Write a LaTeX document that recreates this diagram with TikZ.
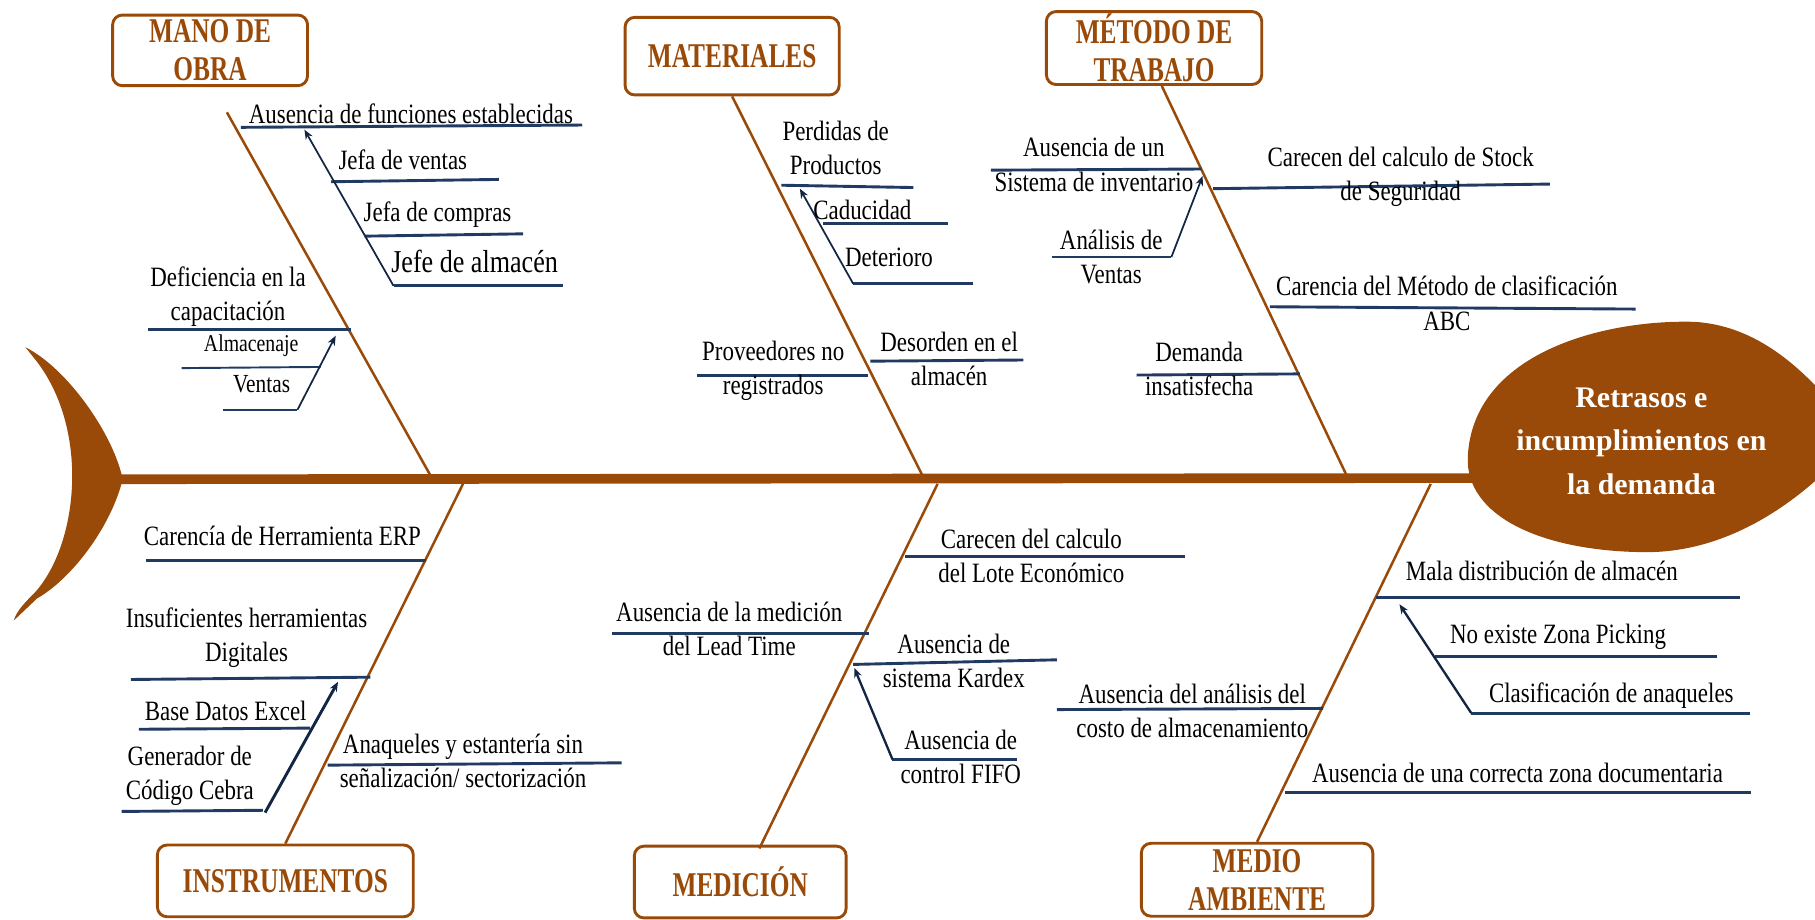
\documentclass[tikz,border=0pt]{standalone}
\usepackage{fontspec}
\setmainfont{Liberation Serif}[FakeStretch=0.82]
\newfontfamily\catfont{Liberation Serif}[FakeStretch=0.73]
\newfontfamily\headfont{Liberation Serif}
\usepackage{xcolor}
\usepackage{tikz}
\usetikzlibrary{arrows.meta,positioning,calc}
\definecolor{fishbrown}{RGB}{153,74,8}
\definecolor{ribblue}{RGB}{33,58,98}
\definecolor{arrblue}{RGB}{18,38,68}
\tikzset{
  cat/.style    = {rectangle, draw=fishbrown, line width=1.5pt, fill=white,
                   rounded corners=5pt, text=fishbrown, align=center, inner sep=0.5pt,
                   font=\catfont\fontsize{18}{19.8}\selectfont\bfseries},
  cause/.style  = {inner sep=0pt, align=center,
                   font=\fontsize{14.5}{17.7}\selectfont},
  bone/.style   = {draw=fishbrown, line width=1.3pt},
  spine/.style  = {draw=fishbrown, line width=5pt},
  rib/.style    = {draw=ribblue, line width=1.5pt},
  subarr/.style = {-{Stealth[length=5pt,width=4pt]}, draw=arrblue, line width=0.9pt},
}

\begin{document}
\begin{tikzpicture}[x=0.6pt, y=-0.6pt]
\useasboundingbox (0,0) rectangle (1568,794);
\clip (0,0) rectangle (1568,794);

%% ── Head and tail ─────────────────────────────────────────────────────────
\fill[fishbrown] (1268,395) .. controls (1272,305) and (1385,276) .. (1463,278)
  .. controls (1520,281) and (1565,322) .. (1605,378)
  .. controls (1565,425) and (1500,478) .. (1420,477)
  .. controls (1330,476) and (1266,445) .. (1268,395) -- cycle;
\node[font=\headfont\fontsize{15.5}{22.5}\selectfont\bfseries, text=white, align=center]
  (effect) at (1418,381) {Retrasos e\\incumplimientos en\\la demanda};

\fill[fishbrown] (22,300) .. controls (58,318) and (98,375) .. (106,414)
  .. controls (96,455) and (62,500) .. (32,517) -- (12,536)
  .. controls (14,528) and (22,520) .. (30,512)
  .. controls (68,470) and (78,370) .. (30,310) -- cycle;

%% ── Spine ─────────────────────────────────────────────────────────────────
\coordinate (tailTip) at (104,414);
\coordinate (spineEnd) at (1272,413);
\draw[spine] (tailTip) -- (spineEnd);

%% ── Categories ────────────────────────────────────────────────────────────
\node[cat, minimum width=101pt, minimum height=36.6pt] (catObra) at (181.5,43.5) {MANO DE\\OBRA};
\node[cat, minimum width=111pt, minimum height=40.2pt] (catMat)  at (632.5,48.5) {MATERIALES};
\node[cat, minimum width=111.6pt, minimum height=37.8pt] (catMet) at (997,41.5) {MÉTODO DE\\TRABAJO};
\node[cat, minimum width=132.6pt, minimum height=37.2pt] (catIns) at (246.5,761) {INSTRUMENTOS};
\node[cat, minimum width=109.8pt, minimum height=37.2pt] (catMed) at (639.5,762) {MEDICIÓN};
\node[cat, minimum width=120pt, minimum height=37.8pt] (catAmb)  at (1086,760) {MEDIO\\AMBIENTE};

%% ── Bones ─────────────────────────────────────────────────────────────────
\coordinate (obraTop) at (196,97);   \coordinate (obraEnd) at (372,411);
\coordinate (matEnd)  at (797,411);
\coordinate (metEnd)  at (1163,410);
\coordinate (insStart) at (400,418);
\coordinate (medStart) at (810,418); \coordinate (medBot) at (656,733);
\coordinate (ambStart) at (1236,418);

\draw[bone] (obraTop) -- (obraEnd);
\draw[bone] (catMat.south) -- (matEnd);
\draw[bone] ([xshift=4pt]catMet.south) -- (metEnd);
\draw[bone] (insStart) -- (catIns.north);
\draw[bone] (medStart) -- (medBot);
\draw[bone] (ambStart) -- (catAmb.north);

%% ── Mano de obra ──────────────────────────────────────────────────────────
\coordinate (obraA1) at (208,110); \coordinate (obraA2) at (503,108);
\coordinate (obraB1) at (286,157); \coordinate (obraB2) at (431,155);
\coordinate (obraC1) at (315,204); \coordinate (obraC2) at (452,202);
\coordinate (obraD1) at (340,247); \coordinate (obraD2) at (486,247);
\coordinate (obraE1) at (128,285); \coordinate (obraE2) at (303,285);
\coordinate (obraF1) at (157,318); \coordinate (obraF2) at (277,317);
\coordinate (obraG1) at (193,354); \coordinate (obraG2) at (257,354);
\coordinate (obraTipA) at (263,112); \coordinate (obraTipE) at (290,290);

\draw[rib] (obraA1) -- (obraA2);
\draw[rib] (obraB1) -- (obraB2);
\draw[rib] (obraC1) -- (obraC2);
\draw[rib] (obraD1) -- (obraD2);
\draw[rib] (obraE1) -- (obraE2);
\draw[rib, line width=1pt] (obraF1) -- (obraF2);
\draw[rib, line width=1pt] (obraG1) -- (obraG2);
\draw[subarr] (obraD1) -- (obraTipA);
\draw[subarr] (obraG2) -- (obraTipE);

\node[cause] (obraA) at (355,98)  {Ausencia de funciones establecidas};
\node[cause] (obraB) at (348,138) {Jefa de ventas};
\node[cause] (obraC) at (378,185) {Jefa de compras};
\node[cause, font=\fontsize{16.5}{19}\selectfont] (obraD) at (410,226) {Jefe de almacén};
\node[cause] (obraE) at (197,256) {Deficiencia en la\\capacitación};
\node[cause, font=\fontsize{12.5}{15}\selectfont] (obraF) at (217,299) {Almacenaje};
\node[cause, font=\fontsize{13.5}{16}\selectfont] (obraG) at (226,332) {Ventas};

%% ── Materiales ────────────────────────────────────────────────────────────
\coordinate (matA1) at (675,160); \coordinate (matA2) at (789,162);
\coordinate (matB1) at (711,193); \coordinate (matB2) at (819,193);
\coordinate (matC1) at (737,245); \coordinate (matC2) at (841,245);
\coordinate (matD1) at (602,324); \coordinate (matD2) at (750,324);
\coordinate (matE1) at (752,312); \coordinate (matE2) at (884,311);
\coordinate (matTipA) at (691,163);

\draw[rib] (matA1) -- (matA2);
\draw[rib] (matB1) -- (matB2);
\draw[rib] (matC1) -- (matC2);
\draw[rib] (matD1) -- (matD2);
\draw[rib] (matE1) -- (matE2);
\draw[subarr] (matC1) -- (matTipA);

\node[cause] (matA) at (722,128) {Perdidas de\\Productos};
\node[cause] (matB) at (745,181) {Caducidad};
\node[cause] (matC) at (768,222) {Deterioro};
\node[cause] (matD) at (668,320) {Proveedores no\\registrados};
\node[cause] (matE) at (820,310) {Desorden en el\\almacén};

%% ── Método de trabajo ─────────────────────────────────────────────────────
\coordinate (metA1) at (856,147);  \coordinate (metA2) at (1038,146);
\coordinate (metB1) at (909,222);  \coordinate (metB2) at (1012,222);
\coordinate (metC1) at (1048,163); \coordinate (metC2) at (1339,159);
\coordinate (metD1) at (1097,265); \coordinate (metD2) at (1413,267);
\coordinate (metE1) at (982,324);  \coordinate (metE2) at (1123,323);
\coordinate (metTipA) at (1039,152);

\draw[rib] (metA1) -- (metA2);
\draw[rib] (metB1) -- (metB2);
\draw[rib] (metC1) -- (metC2);
\draw[rib] (metD1) -- (metD2);
\draw[rib] (metE1) -- (metE2);
\draw[subarr] (metB2) -- (metTipA);

\node[cause] (metA) at (945,142)  {Ausencia de un\\Sistema de inventario};
\node[cause] (metB) at (960,222)  {Análisis de\\Ventas};
\node[cause] (metC) at (1210,153) {Carecen del calculo de Stock\\de Seguridad};
\node[cause] (metD) at (1250,262) {Carencia del Método de clasificación\\ABC};
\node[cause] (metE) at (1036,319) {Demanda\\insatisfecha};

%% ── Instrumentos ──────────────────────────────────────────────────────────
\coordinate (insA1) at (126,484); \coordinate (insA2) at (368,484);
\coordinate (insB1) at (113,587); \coordinate (insB2) at (320,585);
\coordinate (insC1) at (120,630); \coordinate (insC2) at (268,629);
\coordinate (insD1) at (105,701); \coordinate (insD2) at (227,700);
\coordinate (insE1) at (283,661); \coordinate (insE2) at (537,659);
\coordinate (insArr) at (229,702); \coordinate (insTip) at (292,589);

\draw[rib] (insA1) -- (insA2);
\draw[rib] (insB1) -- (insB2);
\draw[rib] (insC1) -- (insC2);
\draw[rib] (insD1) -- (insD2);
\draw[rib] (insE1) -- (insE2);
\draw[subarr, line width=1.5pt] (insArr) -- (insTip);

\node[cause] (insA) at (244,463) {Carencía de Herramienta ERP};
\node[cause] (insB) at (213,551) {Insuficientes herramientas\\Digitales};
\node[cause] (insC) at (195,614) {Base Datos Excel};
\node[cause] (insD) at (164,670) {Generador de\\Código Cebra};
\node[cause] (insE) at (400,657) {Anaqueles y estantería sin\\señalización/ sectorización};

%% ── Medición ──────────────────────────────────────────────────────────────
\coordinate (medA1) at (782,481); \coordinate (medA2) at (1024,481);
\coordinate (medB1) at (529,547); \coordinate (medB2) at (751,547);
\coordinate (medC1) at (737,574); \coordinate (medC2) at (913,570);
\coordinate (medD1) at (771,656); \coordinate (medD2) at (879,656);
\coordinate (medTipC) at (738,577);

\draw[rib] (medA1) -- (medA2);
\draw[rib] (medB1) -- (medB2);
\draw[rib] (medC1) -- (medC2);
\draw[rib] (medD1) -- (medD2);
\draw[subarr, line width=1.2pt] (medD1) -- (medTipC);

\node[cause] (medA) at (891,480) {Carecen del calculo\\del Lote Económico};
\node[cause] (medB) at (630,543) {Ausencia de la medición\\del Lead Time};
\node[cause] (medC) at (824,571) {Ausencia de\\sistema Kardex};
\node[cause] (medD) at (830,654) {Ausencia de\\control FIFO};

%% ── Medio ambiente ────────────────────────────────────────────────────────
\coordinate (ambA1) at (1189,516); \coordinate (ambA2) at (1503,516);
\coordinate (ambB1) at (1240,567); \coordinate (ambB2) at (1483,567);
\coordinate (ambC1) at (1271,616); \coordinate (ambC2) at (1512,616);
\coordinate (ambD1) at (913,613);  \coordinate (ambD2) at (1143,612);
\coordinate (ambE1) at (1110,685); \coordinate (ambE2) at (1513,685);
\coordinate (ambTipA) at (1209,522);

\draw[rib] (ambA1) -- (ambA2);
\draw[rib] (ambB1) -- (ambB2);
\draw[rib] (ambC1) -- (ambC2);
\draw[rib] (ambD1) -- (ambD2);
\draw[rib] (ambE1) -- (ambE2);
\draw[subarr, line width=1.2pt] (ambC1) -- (ambTipA);

\node[cause] (ambA) at (1332,493) {Mala distribución de almacén};
\node[cause] (ambB) at (1346,550) {No existe Zona Picking};
\node[cause] (ambC) at (1392,601) {Clasificación de anaqueles};
\node[cause] (ambD) at (1030,614) {Ausencia del análisis del\\costo de almacenamiento};
\node[cause] (ambE) at (1311,668) {Ausencia de una correcta zona documentaria};

\end{tikzpicture}
\end{document}
